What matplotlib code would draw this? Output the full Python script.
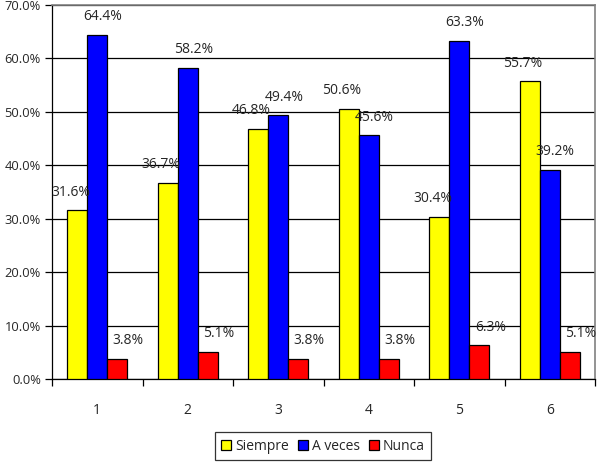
import matplotlib

matplotlib.use("Agg")

import numpy as np
from matplotlib import pyplot as plt
from matplotlib.ticker import FixedLocator, PercentFormatter

plt.rcParams["font.family"] = ["Open Sans", "DejaVu Sans"]

CATEGORIES = ["1", "2", "3", "4", "5", "6"]
SERIES_NAMES = ["Siempre", "A veces", "Nunca"]
SIEMPRE = [31.6, 36.7, 46.8, 50.6, 30.4, 55.7]
A_VECES = [64.4, 58.2, 49.4, 45.6, 63.3, 39.2]
NUNCA = [3.8, 5.1, 3.8, 3.8, 6.3, 5.1]

COLORS = ["#FFFF00", "#0000FF", "#FF0000"]
FONT_SIZE = 10
TEXT_COLOR = "#262626"


def main() -> None:
    figure = plt.figure(figsize=(6.0, 4.63), dpi=100)
    axis = figure.add_axes([52 / 600, 1 - 379 / 463, (595 - 52) / 600, (379 - 5) / 463])

    x = np.arange(len(CATEGORIES))
    width = 0.22
    # label nudges in points (x per series, y above bar)
    label_dx = [-5, 4, 8]
    label_dy = 13

    for index, (name, values, color) in enumerate(zip(SERIES_NAMES, [SIEMPRE, A_VECES, NUNCA], COLORS)):
        positions = x + (index - 1) * width
        axis.bar(positions, values, width=width, color=color, edgecolor="black", linewidth=0.9,
                 label=name, zorder=3)
        for pos, value in zip(positions, values):
            axis.annotate(f"{value:.1f}%", (pos, value), xytext=(label_dx[index], label_dy),
                          textcoords="offset points", ha="center", va="center",
                          fontsize=FONT_SIZE, color=TEXT_COLOR, zorder=4)

    axis.set_xlim(-0.5, len(CATEGORIES) - 0.5)
    axis.set_ylim(0, 70)
    axis.yaxis.set_major_locator(FixedLocator(np.arange(0, 71, 10)))
    axis.yaxis.set_major_formatter(PercentFormatter(decimals=1))
    axis.grid(axis="y", color="black", linewidth=0.9, zorder=0)
    axis.set_axisbelow(True)

    axis.set_xticks(x)
    axis.set_xticklabels(CATEGORIES)
    axis.set_xticks(np.arange(-0.5, len(CATEGORIES)), minor=True)
    axis.tick_params(axis="x", which="major", length=0, pad=17, labelsize=FONT_SIZE, labelcolor=TEXT_COLOR)
    axis.tick_params(axis="x", which="minor", length=5, width=0.9, direction="out")
    axis.tick_params(axis="y", length=5, width=0.9, direction="out", pad=3, labelsize=9.3,
                     labelcolor=TEXT_COLOR)

    for side in ("top", "right"):
        axis.spines[side].set_color("#808080")
        axis.spines[side].set_linewidth(1.2)
    for side in ("left", "bottom"):
        axis.spines[side].set_color("black")
        axis.spines[side].set_linewidth(0.9)

    legend = figure.legend(loc="center", bbox_to_anchor=(323 / 600, 1 - 446 / 463), ncol=3,
                           fontsize=FONT_SIZE, frameon=True, fancybox=False, handlelength=0.75,
                           handleheight=0.75, handletextpad=0.3, columnspacing=0.6,
                           borderpad=0.45, labelcolor=TEXT_COLOR)
    legend.get_frame().set_edgecolor("black")
    legend.get_frame().set_linewidth(0.9)

    figure.savefig("out.png", dpi=100)
    plt.close(figure)


if __name__ == "__main__":
    main()
